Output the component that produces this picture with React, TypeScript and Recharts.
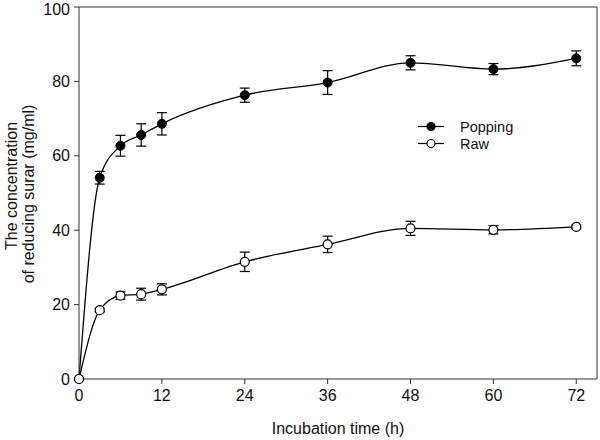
import React from "react";
import {
  LineChart, Line, XAxis, YAxis, ErrorBar, ReferenceLine,
} from "recharts";

const hours = [0, 3, 6, 9, 12, 24, 36, 48, 60, 72];
const popping = [0, 54.1, 62.7, 65.6, 68.6, 76.3, 79.7, 85.0, 83.3, 86.2];
const poppingErr = [0, 1.7, 2.8, 3.0, 3.0, 1.9, 3.2, 1.9, 1.5, 2.0];
const raw = [0, 18.5, 22.4, 22.8, 24.1, 31.5, 36.2, 40.5, 40.1, 40.9];
const rawErr = [0, 0.5, 1.0, 1.6, 1.5, 2.6, 2.2, 1.9, 1.1, 0.5];

const xTicks = [0, 12, 24, 36, 48, 60, 72];
const yTicks = [0, 20, 40, 60, 80, 100];

const data = hours.map((h, i) => ({
  h,
  popping: popping[i],
  poppingErr: poppingErr[i],
  raw: raw[i],
  rawErr: rawErr[i],
}));

const FONT = "'Liberation Sans', Arial, sans-serif";
const AXIS = "#333";
const tickStyle = { fontSize: 16, fill: "#111", fontFamily: FONT };

function YLabel() {
  return (
    <g fontFamily={FONT} fontSize={16} fill="#111">
      <text x={17} y={186} transform="rotate(-90 17 186)" textAnchor="middle">
        The concentration
      </text>
      <text x={34} y={194} transform="rotate(-90 34 194)" textAnchor="middle">
        of reducing surar (mg/ml)
      </text>
    </g>
  );
}

function LegendRow({ label, filled }: { label: string; filled: boolean }) {
  return (
    <div style={{ display: "flex", alignItems: "center", height: 17 }}>
      <svg width={26} height={17}>
        <line x1={0} y1={8.5} x2={26} y2={8.5} stroke="#000" strokeWidth={1.2} />
        <circle cx={13} cy={8.5} r={4} fill={filled ? "#000" : "#fff"} stroke="#000" strokeWidth={1.2} />
      </svg>
      <span style={{ marginLeft: 16, fontSize: 14.5, fontFamily: FONT, color: "#111" }}>{label}</span>
    </div>
  );
}

export default function App() {
  return (
    <div style={{ position: "absolute", left: 0, top: 0, width: 600, height: 440, background: "#fff" }}>
      <LineChart width={600} height={440} data={data} margin={{ top: 7, right: 3, bottom: 0, left: 0 }}>
        <XAxis
          dataKey="h"
          type="number"
          domain={[0, 75]}
          ticks={xTicks}
          tick={tickStyle}
          tickSize={5}
          tickMargin={6}
          stroke={AXIS}
          height={61}
          label={{ value: "Incubation time (h)", position: "insideBottom", offset: 6, style: { fontSize: 16, fill: "#111", fontFamily: FONT } }}
        />
        <YAxis
          type="number"
          domain={[0, 100]}
          ticks={yTicks}
          tick={tickStyle}
          tickSize={5}
          tickMargin={4}
          stroke={AXIS}
          width={79}
          label={<YLabel />}
        />
        <ReferenceLine y={100} stroke={AXIS} strokeWidth={1} />
        <ReferenceLine x={75} stroke={AXIS} strokeWidth={1} />
        <Line
          type="monotone"
          dataKey="popping"
          stroke="#000"
          strokeWidth={1.3}
          dot={{ r: 4.5, fill: "#000", stroke: "#000", strokeWidth: 1 }}
          isAnimationActive={false}
        >
          <ErrorBar dataKey="poppingErr" width={5} stroke="#000" strokeWidth={1.2} />
        </Line>
        <Line
          type="monotone"
          dataKey="raw"
          stroke="#000"
          strokeWidth={1.3}
          dot={{ r: 4.5, fill: "#fff", stroke: "#000", strokeWidth: 1.2 }}
          isAnimationActive={false}
        >
          <ErrorBar dataKey="rawErr" width={5} stroke="#000" strokeWidth={1.2} />
        </Line>
      </LineChart>
      <div style={{ position: "absolute", left: 418, top: 118 }}>
        <LegendRow label="Popping" filled />
        <LegendRow label="Raw" filled={false} />
      </div>
    </div>
  );
}
